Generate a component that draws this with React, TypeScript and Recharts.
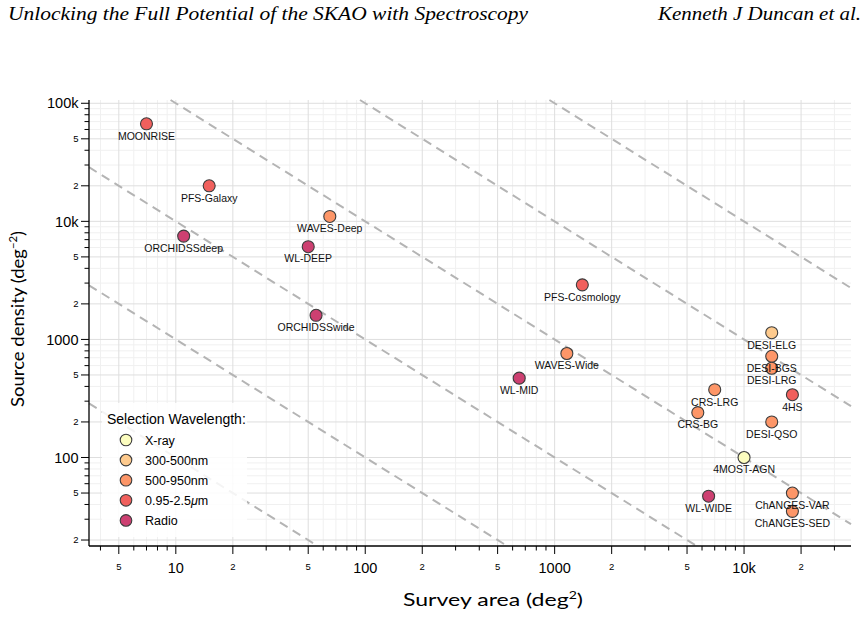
import React from 'react';
import { ScatterChart, Scatter, XAxis, YAxis, CartesianGrid, ReferenceLine } from 'recharts';

// ---------- data ----------
const surveyNames = ['MOONRISE', 'PFS-Galaxy', 'ORCHIDSSdeep', 'WAVES-Deep', 'WL-DEEP', 'PFS-Cosmology', 'ORCHIDSSwide', 'WAVES-Wide', 'WL-MID', 'DESI-ELG', 'DESI-BGS', 'DESI-LRG', '4HS', 'CRS-LRG', 'CRS-BG', 'DESI-QSO', '4MOST-AGN', 'WL-WIDE', 'ChANGES-VAR', 'ChANGES-SED'];
const surveyAreas = [7, 15, 11, 65, 50, 1400, 55, 1160, 650, 14000, 14000, 14000, 18000, 7000, 5700, 14000, 10000, 6500, 18000, 18000];
const surveyDensities = [67000, 20000, 7500, 11000, 6100, 2900, 1600, 760, 470, 1140, 720, 570, 340, 375, 240, 200, 100, 47, 50, 35];
const surveyBands = ['nir', 'nir', 'radio', 'opt', 'radio', 'nir', 'radio', 'opt', 'radio', 'blue', 'opt', 'opt', 'nir', 'opt', 'opt', 'opt', 'xray', 'radio', 'opt', 'opt'];

const bandKeys = ['xray', 'blue', 'opt', 'nir', 'radio'];
const bandLabels = ['X-ray', '300-500nm', '500-950nm', '0.95-2.5μm', 'Radio'];
const bandColors = ['#fcfdbf', '#feca8d', '#fd9668', '#f1605d', '#cd4071'];

// constant total-number lines (N = density * area)
const constantN = [1e3, 1e4, 1e5, 1e6, 1e7, 1e8];

const xDomain = [3.48, 36700];
const yDomain = [17.8, 106600];

const xLabeledTicks = [5, 10, 20, 50, 100, 200, 500, 1000, 2000, 5000, 10000, 20000];
const xLabeledText = ['5', '10', '2', '5', '100', '2', '5', '1000', '2', '5', '10k', '2'];
const xMinorTicks = [4, 6, 7, 8, 9, 30, 40, 60, 70, 80, 90, 300, 400, 600, 700, 800, 900, 3000, 4000, 6000, 7000, 8000, 9000, 30000];

const yLabeledTicks = [20, 50, 100, 200, 500, 1000, 2000, 5000, 10000, 20000, 50000, 100000];
const yLabeledText = ['2', '5', '100', '2', '5', '1000', '2', '5', '10k', '2', '5', '100k'];
const yMinorTicks = [30, 40, 60, 70, 80, 90, 300, 400, 600, 700, 800, 900, 3000, 4000, 6000, 7000, 8000, 9000, 30000, 40000, 60000, 70000, 80000, 90000];

// ---------- derived ----------
const points = surveyNames.map((name, i) => ({ name, x: surveyAreas[i], y: surveyDensities[i], band: surveyBands[i] }));
const xTicks = [...xLabeledTicks, ...xMinorTicks].sort((a, b) => a - b);
const yTicks = [...yLabeledTicks, ...yMinorTicks].sort((a, b) => a - b);

const SANS = '"Liberation Sans", Arial, Helvetica, sans-serif';
const TITLE = 'Lato, "Open Sans", sans-serif';
const SERIF = '"Liberation Serif", "Times New Roman", serif';

const XTick = (props: any) => {
  const { x, y, payload } = props;
  const v = payload.value;
  const idx = xLabeledTicks.indexOf(v);
  const lab = idx >= 0 ? xLabeledText[idx] : '';
  const big = lab.length > 1;
  return (
    <g>
      <line x1={x} x2={x} y1={y} y2={y + (lab ? 8 : 4.5)} stroke="#000" strokeWidth={1} />
      {lab && (
        <text x={x} y={y + (big ? 27.3 : 23.5)} textAnchor="middle" fontSize={big ? 14.5 : 9.5} fontFamily={SANS} fill="#000">
          {lab}
        </text>
      )}
    </g>
  );
};

const YTick = (props: any) => {
  const { x, y, payload } = props;
  const v = payload.value;
  const idx = yLabeledTicks.indexOf(v);
  const lab = idx >= 0 ? yLabeledText[idx] : '';
  const big = lab.length > 1;
  return (
    <g>
      <line x1={x - (lab ? 8 : 4.5)} x2={x} y1={y} y2={y} stroke="#000" strokeWidth={1} />
      {lab && (
        <text x={x - 10.5} y={y} dy="0.36em" textAnchor="end" fontSize={big ? 14.5 : 9.5} fontFamily={SANS} fill="#000">
          {lab}
        </text>
      )}
    </g>
  );
};

const makeDot = (color: string) => (props: any) => (
  <circle cx={props.cx} cy={props.cy} r={6} fill={color} stroke="#3c3c3c" strokeWidth={1.1} />
);

const LabelShape = (props: any) => (
  <text x={props.cx} y={props.cy + 15.8} textAnchor="middle" fontSize={10.5} fontFamily={SANS} fill="#111">
    {props.payload.name}
  </text>
);

const segments = constantN
  .map((n) => {
    const x1 = Math.max(xDomain[0], n / yDomain[1]);
    const x2 = Math.min(xDomain[1], n / yDomain[0]);
    return { n, x1, x2 };
  })
  .filter((s) => s.x1 < s.x2);

const renderBandLabel = (label: string) => {
  const m = label.indexOf('μ');
  if (m < 0) return label;
  return (
    <>
      {label.slice(0, m)}
      <tspan fontStyle="italic">μ</tspan>
      {label.slice(m + 1)}
    </>
  );
};

export default function App() {
  return (
    <div style={{ position: 'absolute', left: 0, top: 0, width: 866, height: 617, background: '#fff' }}>
      <ScatterChart width={866} height={617} margin={{ top: 100, right: 15, bottom: 0, left: 0 }}>
        <CartesianGrid verticalValues={xMinorTicks} horizontalValues={yMinorTicks} stroke="#f0f0f0" strokeWidth={1} />
        <CartesianGrid verticalValues={xLabeledTicks} horizontalValues={yLabeledTicks} stroke="#dedede" strokeWidth={1} />
        <XAxis
          type="number"
          dataKey="x"
          scale="log"
          domain={xDomain}
          allowDataOverflow
          ticks={xTicks}
          interval={0}
          tick={<XTick />}
          tickLine={false}
          tickSize={0}
          tickMargin={0}
          height={71}
          axisLine={{ stroke: '#000', strokeWidth: 1.3 }}
        />
        <XAxis
          xAxisId="top"
          orientation="top"
          type="number"
          scale="log"
          domain={xDomain}
          allowDataOverflow
          height={0}
          tick={false}
          tickLine={false}
          axisLine={{ stroke: '#555', strokeWidth: 1.3 }}
        />
        <YAxis
          type="number"
          dataKey="y"
          scale="log"
          domain={yDomain}
          allowDataOverflow
          ticks={yTicks}
          interval={0}
          tick={<YTick />}
          tickLine={false}
          tickSize={0}
          tickMargin={0}
          width={89}
          axisLine={{ stroke: '#000', strokeWidth: 1.3 }}
        />
        <YAxis
          yAxisId="right"
          orientation="right"
          type="number"
          scale="log"
          domain={yDomain}
          allowDataOverflow
          width={0}
          tick={false}
          tickLine={false}
          axisLine={{ stroke: '#555', strokeWidth: 1.3 }}
        />
        {segments.map((s) => (
          <ReferenceLine
            key={s.n}
            segment={[
              { x: s.x1, y: s.n / s.x1 },
              { x: s.x2, y: s.n / s.x2 },
            ]}
            ifOverflow="visible"
            stroke="#b4b4b4"
            strokeWidth={2}
            strokeDasharray="9 6"
          />
        ))}
        {bandKeys.map((b, i) => (
          <Scatter
            key={b}
            name={bandLabels[i]}
            data={points.filter((p) => p.band === b)}
            fill={bandColors[i]}
            shape={makeDot(bandColors[i])}
            isAnimationActive={false}
          />
        ))}
        <Scatter name="labels" data={points} shape={LabelShape} isAnimationActive={false} legendType="none" />
      </ScatterChart>

      <svg width={866} height={617} style={{ position: 'absolute', left: 0, top: 0, pointerEvents: 'none' }}>
        <text x={8} y={20} fontFamily={SERIF} fontStyle="italic" fontSize={18.5} textLength={520} lengthAdjust="spacingAndGlyphs" fill="#000">
          Unlocking the Full Potential of the SKAO with Spectroscopy
        </text>
        <text x={861} y={20} textAnchor="end" fontFamily={SERIF} fontStyle="italic" fontSize={18.5} textLength={203} lengthAdjust="spacingAndGlyphs" fill="#000">
          Kenneth J Duncan et al.
        </text>

        <text x={493} y={606} textAnchor="middle" fontFamily={TITLE} fontSize={18} textLength={180} lengthAdjust="spacingAndGlyphs" fill="#000">
          Survey area (deg<tspan dy={-7} fontSize={11}>2</tspan><tspan dy={7}>)</tspan>
        </text>
        <text transform="translate(24,319) rotate(-90)" textAnchor="middle" fontFamily={TITLE} fontSize={18} textLength={176} lengthAdjust="spacingAndGlyphs" fill="#000">
          Source density (deg<tspan dy={-7} fontSize={11}>−2</tspan><tspan dy={7}>)</tspan>
        </text>

        <g>
          <rect x={102} y={403} width={145} height={134} fill="#fff" fillOpacity={0.85} />
          <text x={107} y={424} fontFamily={SANS} fontSize={14} fill="#000">Selection Wavelength:</text>
          {bandLabels.map((lab, i) => (
            <g key={lab}>
              <circle cx={126} cy={440 + i * 20.1} r={5.8} fill={bandColors[i]} stroke="#3c3c3c" strokeWidth={1.1} />
              <text x={145} y={440 + i * 20.1} dy="0.36em" fontFamily={SANS} fontSize={12.5} fill="#000">
                {renderBandLabel(lab)}
              </text>
            </g>
          ))}
        </g>
      </svg>
    </div>
  );
}
